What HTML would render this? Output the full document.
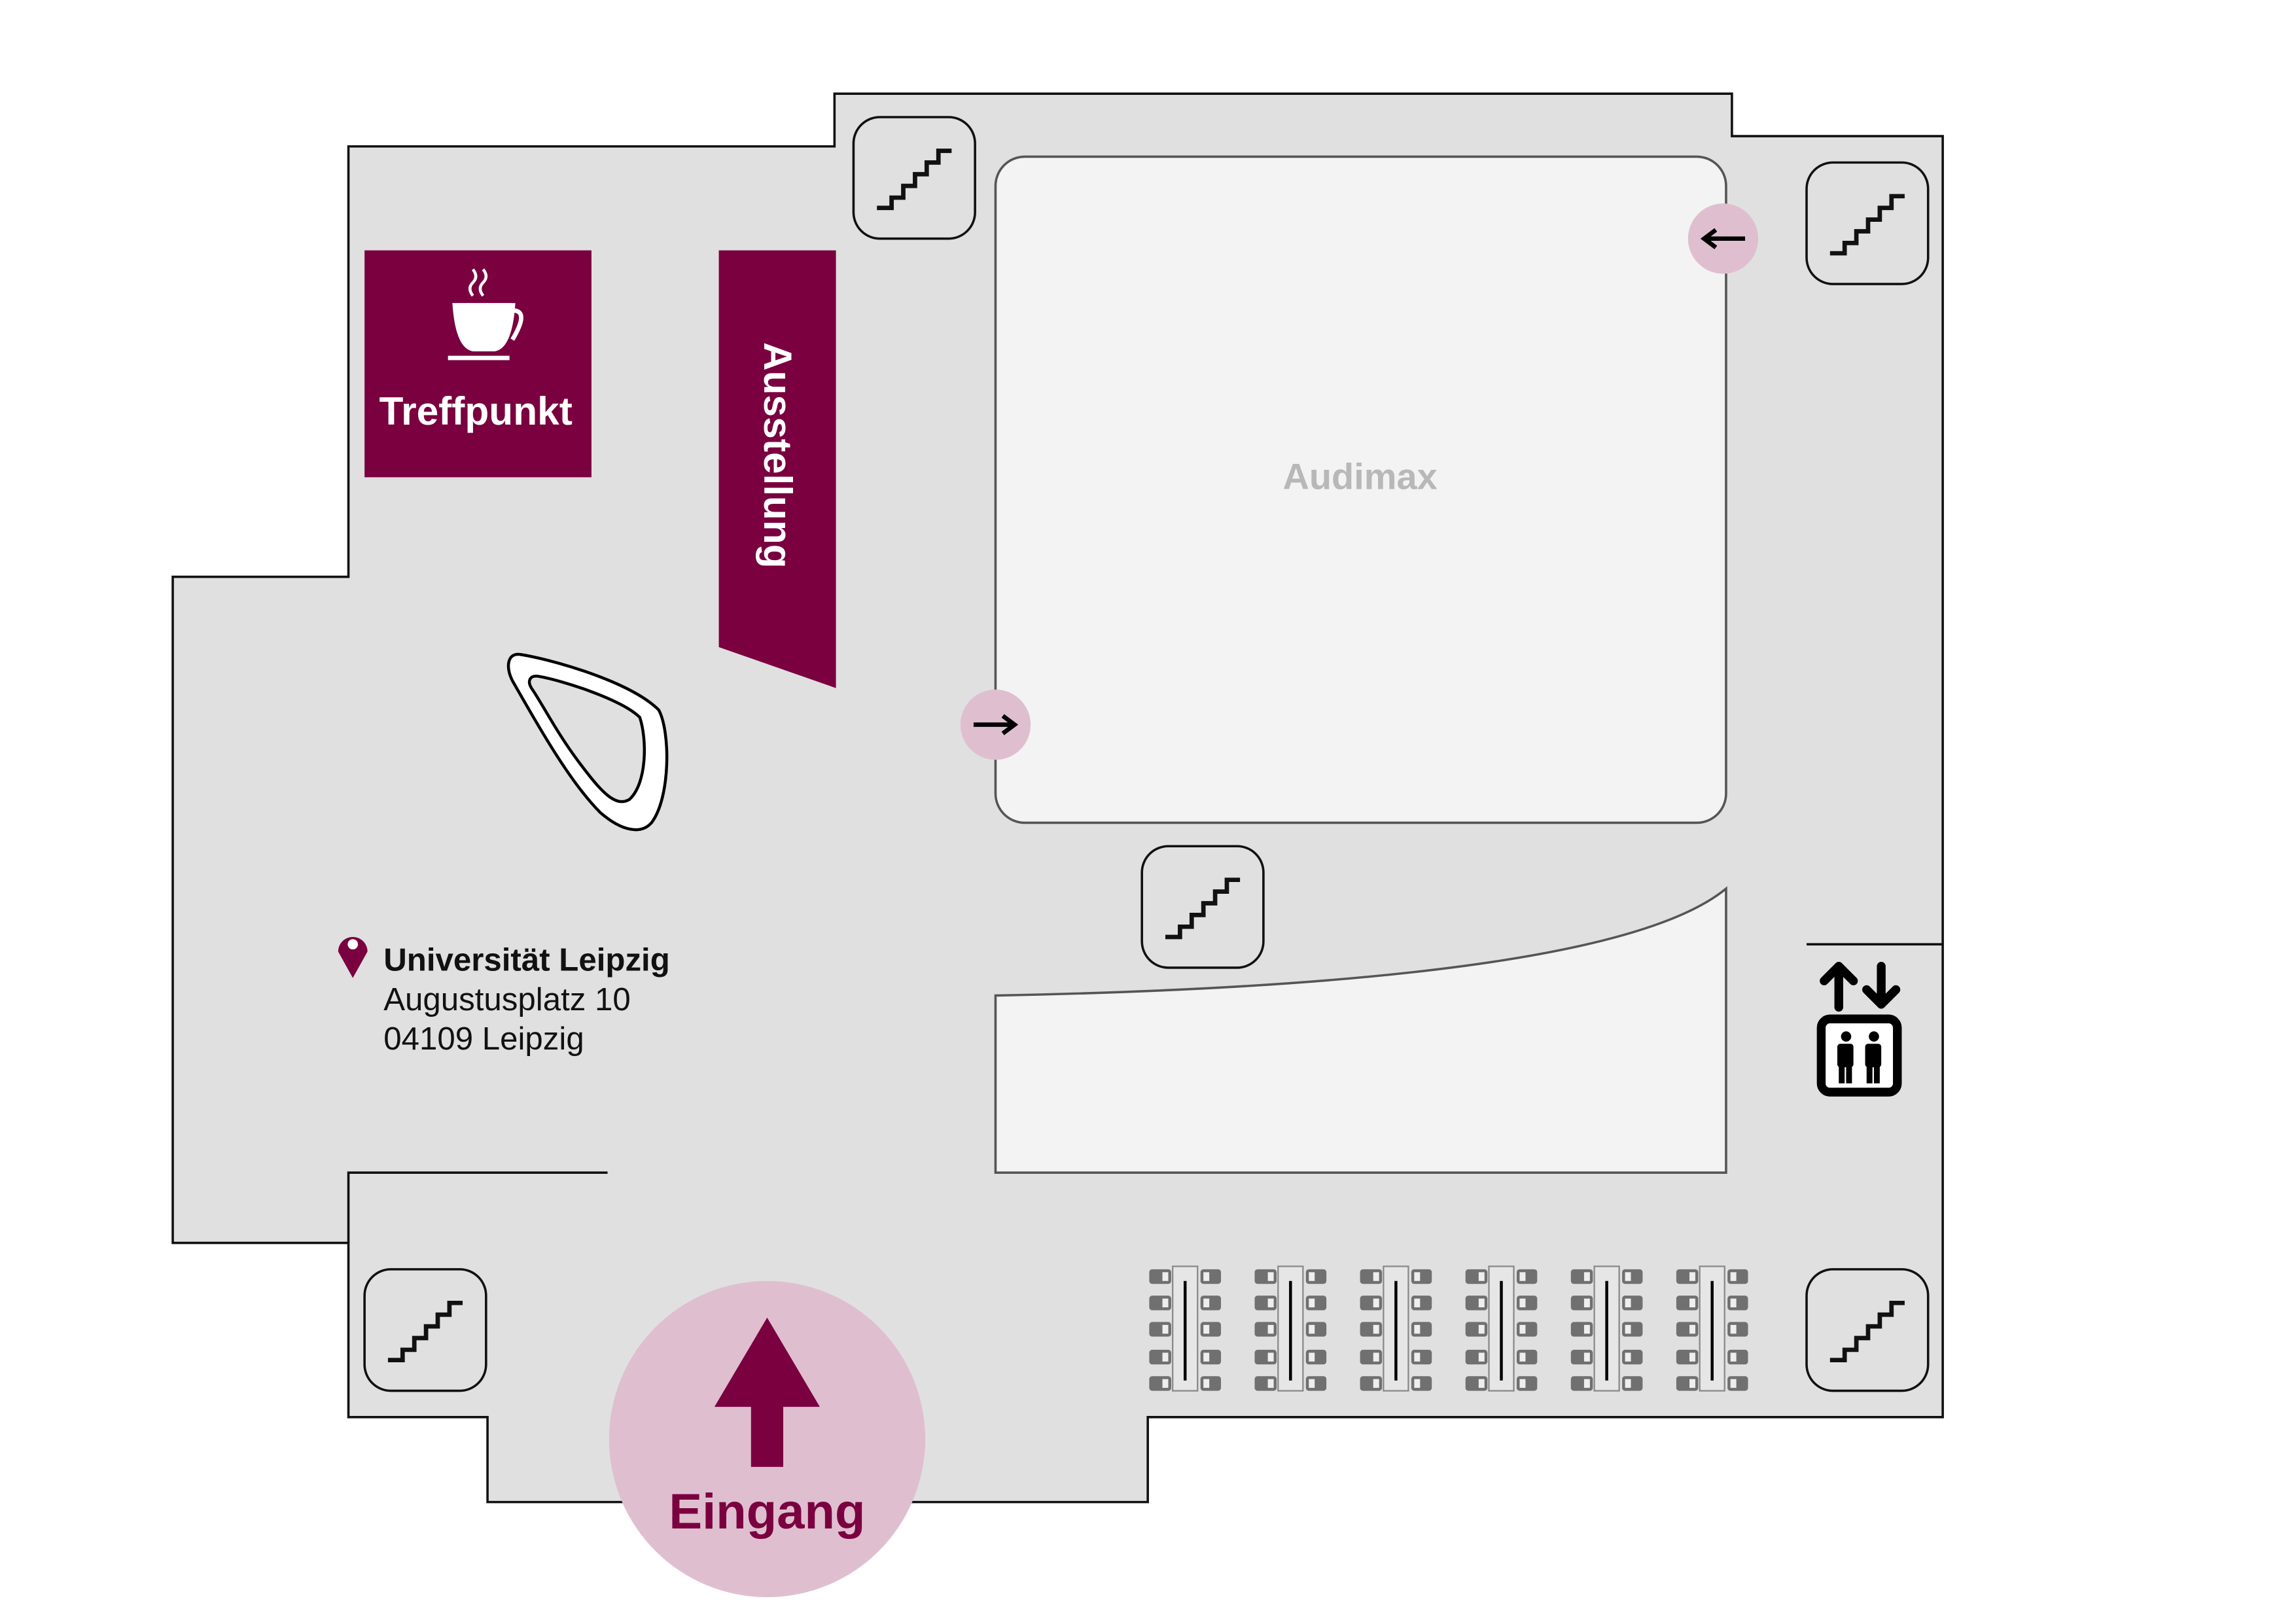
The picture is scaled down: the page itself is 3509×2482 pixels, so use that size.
<!DOCTYPE html>
<html><head><meta charset="utf-8"><style>html,body{margin:0;padding:0;background:#fff}svg{display:block}</style></head><body>
<svg width="3509" height="2482" viewBox="0 0 1568.3 1109.3" preserveAspectRatio="none" xmlns="http://www.w3.org/2000/svg" font-family="'Liberation Sans','DejaVu Sans',sans-serif">
<defs>
<g id="st"><rect x="0" y="0" width="83" height="83" rx="18" fill="#e0e0e0" stroke="#111" stroke-width="1.6"/><polyline points="16,62 26,62 26,55 34,55 34,47 42,47 42,39 50,39 50,31 58,31 58,23 67,23" fill="none" stroke="#111" stroke-width="3"/></g>
<g id="tb"><rect x="16" y="0" width="17" height="85" fill="#e6e6e6" stroke="#888" stroke-width="1"/><line x1="24.5" y1="10" x2="24.5" y2="78" stroke="#000" stroke-width="2"/>
<g fill="#707070"><rect x="0" y="2" width="15" height="10" rx="2"/><rect x="0" y="20" width="15" height="10" rx="2"/><rect x="0" y="38" width="15" height="10" rx="2"/><rect x="0" y="57" width="15" height="10" rx="2"/><rect x="0" y="75" width="15" height="10" rx="2"/>
<rect x="35" y="2" width="14" height="10" rx="2"/><rect x="35" y="20" width="14" height="10" rx="2"/><rect x="35" y="38" width="14" height="10" rx="2"/><rect x="35" y="57" width="14" height="10" rx="2"/><rect x="35" y="75" width="14" height="10" rx="2"/></g>
<g fill="#eee"><rect x="9" y="4" width="4" height="6"/><rect x="9" y="22" width="4" height="6"/><rect x="9" y="40" width="4" height="6"/><rect x="9" y="59" width="4" height="6"/><rect x="9" y="77" width="4" height="6"/>
<rect x="37" y="4" width="4" height="6"/><rect x="37" y="22" width="4" height="6"/><rect x="37" y="40" width="4" height="6"/><rect x="37" y="59" width="4" height="6"/><rect x="37" y="77" width="4" height="6"/></g></g>
</defs>
<polygon points="570,64 1183,64 1183,93 1327,93 1327,968 784,968 784,1026 333,1026 333,968 238,968 238,849 118,849 118,394 238,394 238,100 570,100" fill="#e0e0e0" stroke="#111" stroke-width="1.6"/>
<polyline points="415,801 238,801 238,849" fill="none" stroke="#111" stroke-width="1.6"/>
<line x1="1234" y1="645" x2="1327" y2="645" stroke="#111" stroke-width="1.6"/>
<rect x="680" y="107" width="499" height="455" rx="20" fill="#f3f3f3" stroke="#555" stroke-width="1.6"/>
<text x="929" y="334" text-anchor="middle" font-size="25" fill="#b8b8b8" font-weight="bold">Audimax</text>
<path d="M680,680 L680,801 L1179,801 L1179,607 Q1100,672 680,680 Z" fill="#f3f3f3" stroke="#555" stroke-width="1.6"/>
<use href="#st" x="583" y="80"/><use href="#st" x="1234" y="111"/><use href="#st" x="780" y="578"/><use href="#st" x="249" y="867"/><use href="#st" x="1234" y="867"/>
<rect x="249" y="171" width="155" height="155" fill="#7a0040"/>
<text x="325" y="290" text-anchor="middle" font-size="27" font-weight="bold" fill="#fff">Treffpunkt</text>
<path d="M309,207 L352,207 Q350,238 338,240 L323,240 Q311,238 309,207 Z" fill="#fff"/>
<path d="M350,212 Q362,212 350,232" fill="none" stroke="#fff" stroke-width="3"/>
<rect x="306" y="243" width="42" height="3" fill="#fff"/>
<path d="M323,202 q-4,-5 0,-9 q4,-4 0,-9 M330,202 q-4,-5 0,-9 q4,-4 0,-9" fill="none" stroke="#fff" stroke-width="2"/>
<polygon points="491,171 571,171 571,470 491,442" fill="#7a0040"/>
<text transform="translate(522,311) rotate(90)" text-anchor="middle" font-size="27" font-weight="bold" fill="#fff">Ausstellung</text>
<path d="M355,447 C375,450 430,465 450,485 C458,500 458,545 445,562 C438,570 425,568 410,555 C390,535 370,500 350,465 C345,455 347,446 355,447 Z" fill="#fff" stroke="#000" stroke-width="2"/>
<path d="M368,462 C385,465 425,478 437,490 C442,505 442,535 430,546 C420,552 410,540 395,520 C380,500 370,480 363,470 C360,465 362,461 368,462 Z" fill="#e0e0e0" stroke="#000" stroke-width="2"/>
<circle cx="1177" cy="163" r="24" fill="#dfbfcf"/><path d="M1192,163 L1166,163 M1172,157 L1164,163 L1172,169" stroke="#000" stroke-width="3" fill="none"/>
<circle cx="680" cy="495" r="24" fill="#dfbfcf"/><path d="M665,495 L691,495 M685,489 L693,495 L685,501" stroke="#000" stroke-width="3" fill="none"/>
<path d="M241,668 L231,650 A10,10 0 1 1 251,650 Z" fill="#7a0040"/><circle cx="241" cy="645" r="3.5" fill="#fff"/>
<text x="262" y="663" font-size="22" font-weight="bold" fill="#111">Universität Leipzig</text>
<text x="262" y="690" font-size="22" fill="#111">Augustusplatz 10</text>
<text x="262" y="717" font-size="22" fill="#111">04109 Leipzig</text>
<use href="#tb" x="785" y="865"/><use href="#tb" x="857" y="865"/><use href="#tb" x="929" y="865"/><use href="#tb" x="1001" y="865"/><use href="#tb" x="1073" y="865"/><use href="#tb" x="1145" y="865"/>
<path d="M1256,688 L1256,660 M1246,670 L1256,660 L1266,670 M1285,660 L1285,686 M1275,676 L1285,686 L1295,676" stroke="#000" stroke-width="6" stroke-linecap="round" stroke-linejoin="round" fill="none"/>
<rect x="1244" y="696" width="52" height="50" rx="6" fill="#fff" stroke="#000" stroke-width="6"/>
<g fill="#000"><circle cx="1261" cy="708" r="3.5"/><rect x="1255" y="713" width="11" height="16" rx="2"/><rect x="1256" y="726" width="4" height="14"/><rect x="1261" y="726" width="4" height="14"/>
<circle cx="1280" cy="708" r="3.5"/><rect x="1274" y="713" width="11" height="16" rx="2"/><rect x="1275" y="726" width="4" height="14"/><rect x="1280" y="726" width="4" height="14"/></g>
<circle cx="524" cy="983" r="108" fill="#dfbfcf"/>
<polygon points="524,900 560,961 535,961 535,1002 513,1002 513,961 488,961" fill="#7a0040"/>
<text x="524" y="1044" text-anchor="middle" font-size="34" font-weight="bold" fill="#7a0040">Eingang</text>
</svg>
</body></html>
